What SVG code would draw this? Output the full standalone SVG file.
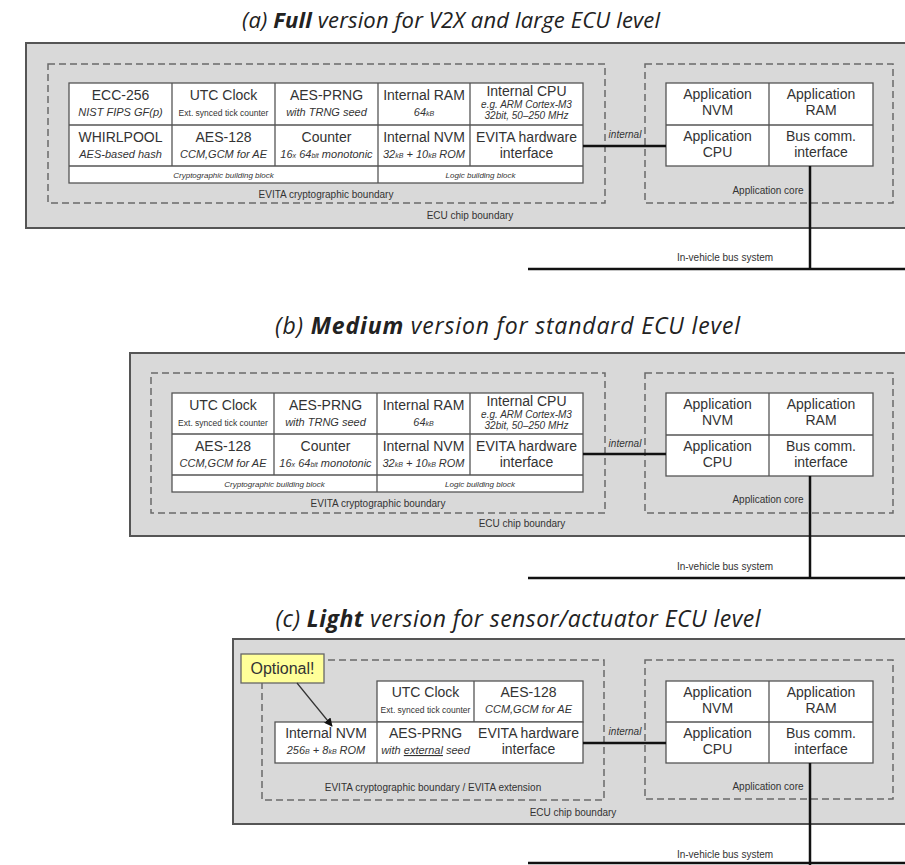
<svg xmlns="http://www.w3.org/2000/svg" width="905" height="865" viewBox="0 0 905 865">
  <style>
    .chip { fill: #d9d9d9; stroke: #555; stroke-width: 2; }
    .bound { fill: none; stroke: #6a6a6a; stroke-width: 1.5; stroke-dasharray: 7 4; }
    .cell { fill: #fff; stroke: #555; stroke-width: 1.3; }
    .note { fill: #ffff99; stroke: #666; stroke-width: 1.3; }
    .wire { stroke: #111; stroke-width: 2.5; fill: none; }
    .arrow { stroke: #333; stroke-width: 1.2; fill: none; }
    text { font-family: "Liberation Sans", Arial, sans-serif; fill: #333; text-anchor: middle; }
    .m { font-size: 14px; }
    .s { font-size: 11px; font-style: italic; }
    .cpu { font-size: 10px; font-style: italic; }
    .xs { font-size: 8.5px; }
    .ft { font-size: 8px; font-style: italic; }
    .lbl { font-size: 10px; }
    .sup { font-size: 7px; }
    .int { font-size: 10px; font-style: italic; }
    .title { font-family: "Open Sans", "Liberation Sans", sans-serif; font-style: italic; fill: #222; }
  </style>
  <defs>
    <marker id="head" viewBox="0 0 10 10" refX="9" refY="5" markerWidth="7" markerHeight="7" orient="auto">
      <path d="M0,0 L10,5 L0,10 z" fill="#111"/>
    </marker>
  </defs>

  <!-- ================= (a) Full version ================= -->
  <text class="title" x="451" y="28" font-size="22px" textLength="418">(a) <tspan font-weight="bold">Full</tspan> version for V2X and large ECU level</text>

  <g id="a-chip">
    <rect class="chip" x="26" y="43" width="900" height="185"/>
    <text class="lbl" x="470" y="219">ECU chip boundary</text>
  </g>

  <g id="a-crypto">
    <rect class="bound" x="48" y="64" width="557" height="139"/>
    <text class="lbl" x="326" y="198">EVITA cryptographic boundary</text>
    <rect class="cell" x="69" y="83" width="514" height="100"/>
    <line class="cell" x1="69" y1="125" x2="583" y2="125"/>
    <line class="cell" x1="69" y1="166" x2="583" y2="166"/>
    <line class="cell" x1="172" y1="83" x2="172" y2="166"/>
    <line class="cell" x1="275" y1="83" x2="275" y2="166"/>
    <line class="cell" x1="378" y1="83" x2="378" y2="183"/>
    <line class="cell" x1="470" y1="83" x2="470" y2="166"/>

    <text class="m" x="120.5" y="100">ECC-256</text>
    <text class="s" x="120.5" y="116">NIST FIPS GF(p)</text>
    <text class="m" x="120.5" y="142">WHIRLPOOL</text>
    <text class="s" x="120.5" y="158">AES-based hash</text>

    <text class="m" x="223.5" y="100">UTC Clock</text>
    <text class="xs" x="223.5" y="116">Ext. synced tick counter</text>
    <text class="m" x="223.5" y="142">AES-128</text>
    <text class="s" x="223.5" y="158">CCM,GCM for AE</text>

    <text class="m" x="326.5" y="100">AES-PRNG</text>
    <text class="s" x="326.5" y="116">with TRNG seed</text>
    <text class="m" x="326.5" y="142">Counter</text>
    <text class="s" x="326.5" y="158">16<tspan class="sup">x</tspan> 64<tspan class="sup">bit</tspan> monotonic</text>

    <text class="m" x="424" y="100">Internal RAM</text>
    <text class="s" x="424" y="116">64<tspan class="sup">kB</tspan></text>
    <text class="m" x="424" y="142">Internal NVM</text>
    <text class="s" x="424" y="158">32<tspan class="sup">kB</tspan> + 10<tspan class="sup">kB</tspan> ROM</text>

    <text class="m" x="526.5" y="96">Internal CPU</text>
    <text class="cpu" x="526.5" y="108">e.g. ARM Cortex-M3</text>
    <text class="cpu" x="526.5" y="119">32bit, 50–250 MHz</text>
    <text class="m" x="526.5" y="142">EVITA hardware</text>
    <text class="m" x="526.5" y="158">interface</text>

    <text class="ft" x="223.5" y="178">Cryptographic building block</text>
    <text class="ft" x="480.5" y="178">Logic building block</text>
  </g>

  <g id="a-app">
    <rect class="bound" x="645" y="64" width="248" height="139"/>
    <text class="lbl" x="768" y="194">Application core</text>
    <rect class="cell" x="666" y="83" width="207" height="83"/>
    <line class="cell" x1="666" y1="125" x2="873" y2="125"/>
    <line class="cell" x1="769" y1="83" x2="769" y2="166"/>
    <text class="m" x="717.5" y="99">Application</text>
    <text class="m" x="717.5" y="115">NVM</text>
    <text class="m" x="821" y="99">Application</text>
    <text class="m" x="821" y="115">RAM</text>
    <text class="m" x="717.5" y="141">Application</text>
    <text class="m" x="717.5" y="157">CPU</text>
    <text class="m" x="821" y="141">Bus comm.</text>
    <text class="m" x="821" y="157">interface</text>
  </g>

  <!-- ================= (b) Medium version ================= -->
  <text class="title" x="507.5" y="334" font-size="23px" textLength="465">(b) <tspan font-weight="bold">Medium</tspan> version for standard ECU level</text>

  <g id="b-chip">
    <rect class="chip" x="130" y="353" width="800" height="183"/>
    <text class="lbl" x="522" y="527">ECU chip boundary</text>
  </g>

  <g id="b-crypto">
    <rect class="bound" x="151" y="373" width="454" height="140"/>
    <text class="lbl" x="378" y="507">EVITA cryptographic boundary</text>
    <rect class="cell" x="172" y="393" width="411" height="99"/>
    <line class="cell" x1="172" y1="434" x2="583" y2="434"/>
    <line class="cell" x1="172" y1="475" x2="583" y2="475"/>
    <line class="cell" x1="274" y1="393" x2="274" y2="475"/>
    <line class="cell" x1="377" y1="393" x2="377" y2="492"/>
    <line class="cell" x1="470" y1="393" x2="470" y2="475"/>

    <text class="m" x="223" y="410">UTC Clock</text>
    <text class="xs" x="223" y="426">Ext. synced tick counter</text>
    <text class="m" x="223" y="451">AES-128</text>
    <text class="s" x="223" y="467">CCM,GCM for AE</text>

    <text class="m" x="325.5" y="410">AES-PRNG</text>
    <text class="s" x="325.5" y="426">with TRNG seed</text>
    <text class="m" x="325.5" y="451">Counter</text>
    <text class="s" x="325.5" y="467">16<tspan class="sup">x</tspan> 64<tspan class="sup">bit</tspan> monotonic</text>

    <text class="m" x="423.5" y="410">Internal RAM</text>
    <text class="s" x="423.5" y="426">64<tspan class="sup">kB</tspan></text>
    <text class="m" x="423.5" y="451">Internal NVM</text>
    <text class="s" x="423.5" y="467">32<tspan class="sup">kB</tspan> + 10<tspan class="sup">kB</tspan> ROM</text>

    <text class="m" x="526.5" y="406">Internal CPU</text>
    <text class="cpu" x="526.5" y="418">e.g. ARM Cortex-M3</text>
    <text class="cpu" x="526.5" y="429">32bit, 50–250 MHz</text>
    <text class="m" x="526.5" y="451">EVITA hardware</text>
    <text class="m" x="526.5" y="467">interface</text>

    <text class="ft" x="274.5" y="487">Cryptographic building block</text>
    <text class="ft" x="480" y="487">Logic building block</text>
  </g>

  <g id="b-app">
    <rect class="bound" x="645" y="373" width="248" height="140"/>
    <text class="lbl" x="768" y="503">Application core</text>
    <rect class="cell" x="666" y="393" width="207" height="83"/>
    <line class="cell" x1="666" y1="435" x2="873" y2="435"/>
    <line class="cell" x1="769" y1="393" x2="769" y2="476"/>
    <text class="m" x="717.5" y="409">Application</text>
    <text class="m" x="717.5" y="425">NVM</text>
    <text class="m" x="821" y="409">Application</text>
    <text class="m" x="821" y="425">RAM</text>
    <text class="m" x="717.5" y="451">Application</text>
    <text class="m" x="717.5" y="467">CPU</text>
    <text class="m" x="821" y="451">Bus comm.</text>
    <text class="m" x="821" y="467">interface</text>
  </g>

  <!-- ================= (c) Light version ================= -->
  <text class="title" x="518" y="627" font-size="23px" textLength="485">(c) <tspan font-weight="bold">Light</tspan> version for sensor/actuator ECU level</text>

  <g id="c-chip">
    <rect class="chip" x="233" y="639" width="700" height="185"/>
    <text class="lbl" x="573" y="816">ECU chip boundary</text>
  </g>

  <g id="c-crypto">
    <rect class="bound" x="262" y="660" width="342" height="140"/>
    <text class="lbl" x="433" y="791">EVITA cryptographic boundary / EVITA extension</text>
    <rect class="cell" x="377" y="681" width="206" height="41"/>
    <line class="cell" x1="474" y1="681" x2="474" y2="763"/>
    <rect class="cell" x="275" y="722" width="308" height="41"/>
    <line class="cell" x1="377" y1="722" x2="377" y2="763"/>

    <text class="m" x="425.5" y="697">UTC Clock</text>
    <text class="xs" x="425.5" y="713">Ext. synced tick counter</text>
    <text class="m" x="528.5" y="697">AES-128</text>
    <text class="s" x="528.5" y="713">CCM,GCM for AE</text>

    <text class="m" x="326" y="738">Internal NVM</text>
    <text class="s" x="326" y="754">256<tspan class="sup">B</tspan> + 8<tspan class="sup">kB</tspan> ROM</text>
    <text class="m" x="425.5" y="738">AES-PRNG</text>
    <text class="s" x="425.5" y="754">with <tspan text-decoration="underline">external</tspan> seed</text>
    <text class="m" x="528.5" y="738">EVITA hardware</text>
    <text class="m" x="528.5" y="754">interface</text>
  </g>

  <g id="c-app">
    <rect class="bound" x="645" y="660" width="248" height="139"/>
    <text class="lbl" x="768" y="790">Application core</text>
    <rect class="cell" x="666" y="681" width="207" height="82"/>
    <line class="cell" x1="666" y1="722" x2="873" y2="722"/>
    <line class="cell" x1="769" y1="681" x2="769" y2="763"/>
    <text class="m" x="717.5" y="697">Application</text>
    <text class="m" x="717.5" y="713">NVM</text>
    <text class="m" x="821" y="697">Application</text>
    <text class="m" x="821" y="713">RAM</text>
    <text class="m" x="717.5" y="738">Application</text>
    <text class="m" x="717.5" y="754">CPU</text>
    <text class="m" x="821" y="738">Bus comm.</text>
    <text class="m" x="821" y="754">interface</text>
  </g>

  <g id="c-optional">
    <rect class="note" x="241" y="654" width="83" height="29"/>
    <text x="282.5" y="674" font-size="16px">Optional!</text>
  </g>

  <!-- ================= connectors ================= -->
  <g id="connectors">
    <!-- (a) -->
    <line class="wire" x1="583" y1="146" x2="666" y2="146"/>
    <text class="int" x="625" y="138">internal</text>
    <line class="wire" x1="810" y1="166" x2="810" y2="269"/>
    <line class="wire" x1="528" y1="269" x2="905" y2="269"/>
    <text class="lbl" x="725" y="261">In-vehicle bus system</text>
    <!-- (b) -->
    <line class="wire" x1="583" y1="454" x2="666" y2="454"/>
    <text class="int" x="625" y="447">internal</text>
    <line class="wire" x1="810" y1="476" x2="810" y2="578"/>
    <line class="wire" x1="528" y1="578" x2="905" y2="578"/>
    <text class="lbl" x="725" y="570">In-vehicle bus system</text>
    <!-- (c) -->
    <line class="wire" x1="583" y1="743" x2="666" y2="743"/>
    <text class="int" x="625" y="735">internal</text>
    <line class="wire" x1="810" y1="763" x2="810" y2="865"/>
    <line class="wire" x1="528" y1="863" x2="905" y2="863"/>
    <text class="lbl" x="725" y="858">In-vehicle bus system</text>
    <!-- note pointer -->
    <line class="arrow" x1="297" y1="683" x2="332" y2="726" marker-end="url(#head)"/>
  </g>
</svg>
